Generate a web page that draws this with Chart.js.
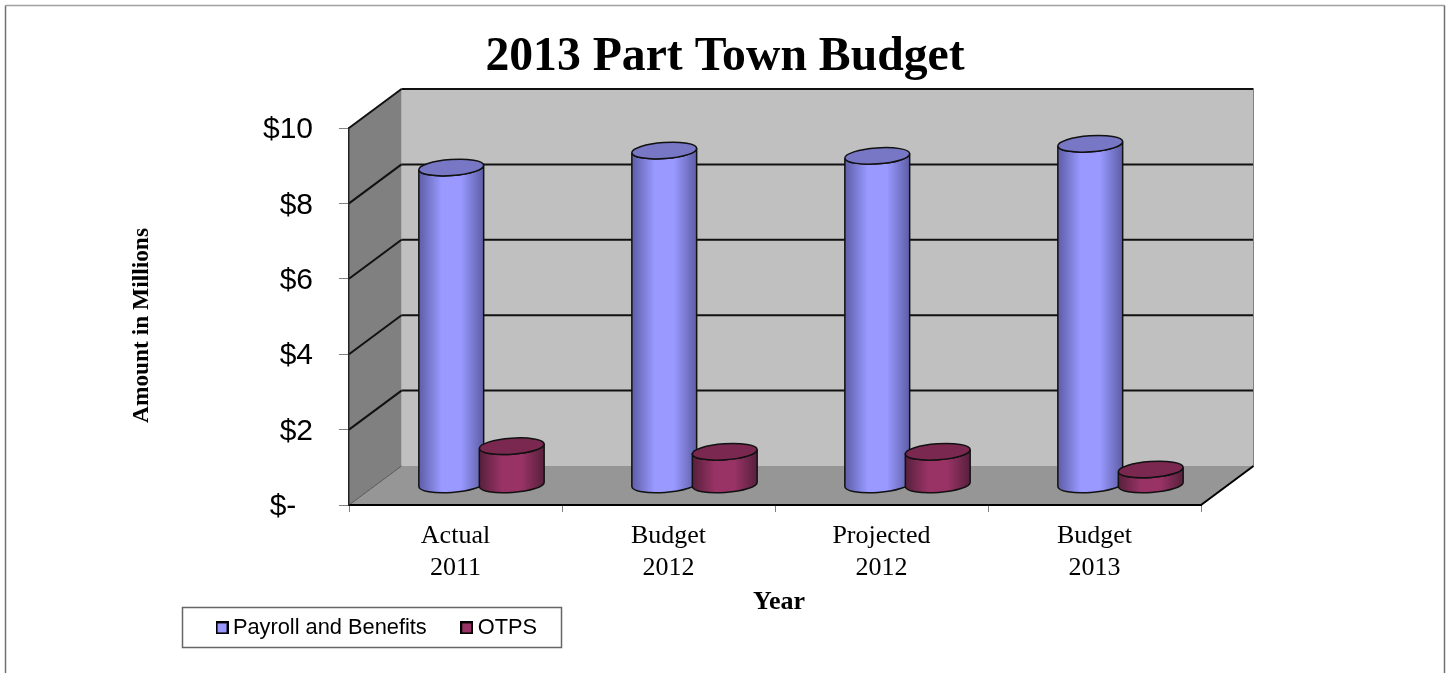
<!DOCTYPE html>
<html>
<head>
<meta charset="utf-8">
<title>2013 Part Town Budget</title>
<script src="https://cdn.jsdelivr.net/npm/chart.js@4"></script>
<style>
    html, body { margin: 0; padding: 0; background: #fff; overflow: hidden; }
    canvas { display: block; }
</style>
</head>
<body>
<canvas id="budgetChart" width="1449" height="673"></canvas>
<script>
const categories = [["Actual", "2011"], ["Budget", "2012"], ["Projected", "2012"], ["Budget", "2013"]];
const payroll = [8.42, 8.87, 8.73, 9.05];
const otps = [1.03, 0.88, 0.88, 0.41];
const yTickLabels = ["$-  ", "$2", "$4", "$6", "$8", "$10"];

// how far the back wall sits behind the axes, and where the cylinders stand in that depth
const wallDepth = { x: 52.5, y: -39 };
const barDepth = { x: 26, y: -20 };

const looks = [
    { edge: "#5d5da6", mid: "#9999ff", top: "#7777c6" },
    { edge: "#57203c", mid: "#993366", top: "#7a2850" }
];

function legendMarker(color) {
    const c = document.createElement("canvas");
    c.width = 13;
    c.height = 13;
    const g = c.getContext("2d");
    g.fillStyle = "#000";
    g.fillRect(0, 0, 13, 13);
    g.fillStyle = color;
    g.fillRect(2, 2, 9, 9);
    return c;
}
const markers = [legendMarker("#9999ff"), legendMarker("#993366")];

function polygon(ctx, points, fill) {
    ctx.beginPath();
    points.forEach((p, i) => (i ? ctx.lineTo(p[0], p[1]) : ctx.moveTo(p[0], p[1])));
    ctx.closePath();
    ctx.fillStyle = fill;
    ctx.fill();
}

function line(ctx, x1, y1, x2, y2, color, width) {
    ctx.beginPath();
    ctx.moveTo(x1, y1);
    ctx.lineTo(x2, y2);
    ctx.strokeStyle = color;
    ctx.lineWidth = width;
    ctx.stroke();
}

// walls, floor, gridlines and the outer frame go under the axes
const roomPlugin = {
    id: "room",
    beforeDraw(chart) {
        const ctx = chart.ctx;
        const { left, right, top, bottom } = chart.chartArea;
        const dx = wallDepth.x, dy = wallDepth.y;
        ctx.save();

        line(ctx, 5.5, 673, 5.5, 5.5, "#707070", 1.5);
        line(ctx, 5.5, 5.5, 1444.5, 5.5, "#a0a0a0", 1.5);
        line(ctx, 1444.5, 5.5, 1444.5, 673, "#707070", 1.5);

        polygon(ctx, [[left + dx, top + dy], [right + dx, top + dy], [right + dx, bottom + dy], [left + dx, bottom + dy]], "#c0c0c0");
        polygon(ctx, [[left, top], [left + dx, top + dy], [left + dx, bottom + dy], [left, bottom]], "#808080");
        polygon(ctx, [[left, bottom], [left + dx, bottom + dy], [right + dx, bottom + dy], [right, bottom]], "#969696");

        chart.scales.y.ticks.forEach(t => {
            if (t.value === 0) return;
            const y = chart.scales.y.getPixelForValue(t.value);
            line(ctx, left, y, left + dx, y + dy, "#111", 2);
            line(ctx, left + dx, y + dy, right + dx, y + dy, "#111", 2);
        });
        line(ctx, left, bottom, left + dx, bottom + dy, "#555", 1);
        line(ctx, right + dx, top + dy, right + dx, bottom + dy, "#808080", 1);
        line(ctx, right, bottom, right + dx, bottom + dy, "#000", 2);

        ctx.strokeStyle = "#666";
        ctx.lineWidth = 1.5;
        ctx.strokeRect(182.5, 607.5, 379, 40);
        ctx.restore();
    }
};

function drawCylinder(ctx, bar, look) {
    const cx = bar.x + barDepth.x;
    const topY = bar.y + barDepth.y;
    const baseY = bar.base + barDepth.y;
    const rx = bar.width / 2;
    const ry = 8;
    const tilt = -0.07;
    const ex = rx * Math.cos(tilt), ey = rx * Math.sin(tilt);

    ctx.save();
    const grad = ctx.createLinearGradient(cx - rx, 0, cx + rx, 0);
    grad.addColorStop(0, look.edge);
    grad.addColorStop(0.35, look.mid);
    grad.addColorStop(0.65, look.mid);
    grad.addColorStop(1, look.edge);

    ctx.beginPath();
    ctx.moveTo(cx - ex, topY - ey);
    ctx.lineTo(cx - ex, baseY - ey);
    ctx.ellipse(cx, baseY, rx, ry, tilt, Math.PI, 0, true);
    ctx.lineTo(cx + ex, topY + ey);
    ctx.ellipse(cx, topY, rx, ry, tilt, 0, Math.PI, false);
    ctx.closePath();
    ctx.fillStyle = grad;
    ctx.fill();
    ctx.strokeStyle = "#111";
    ctx.lineWidth = 1.5;
    ctx.stroke();

    ctx.beginPath();
    ctx.ellipse(cx, topY, rx, ry, tilt, 0, Math.PI * 2);
    ctx.fillStyle = look.top;
    ctx.fill();
    ctx.stroke();
    ctx.restore();
}

// each bar is painted as a cylinder standing partway back on the floor, second series in front
const cylinderPlugin = {
    id: "cylinders",
    beforeDatasetDraw() {
        return false;
    },
    afterDatasetsDraw(chart) {
        looks.forEach((look, i) => {
            chart.getDatasetMeta(i).data.forEach(bar => drawCylinder(chart.ctx, bar, look));
        });
    }
};

function nudgeTitle(scale, dx, dy) {
    const draw = scale.drawTitle;
    scale.drawTitle = function () {
        this.ctx.save();
        this.ctx.translate(dx, dy);
        draw.call(this);
        this.ctx.restore();
    };
}

// title and legend keep their text from Chart.js but sit outside the usual layout stack
const placementPlugin = {
    id: "placement",
    beforeLayout(chart) {
        const lg = chart.legend;
        if (!lg.$flat) {
            const fit = lg.fit;
            lg.fit = function () {
                fit.call(this);
                this.height = 0;
            };
            lg.$flat = true;
        }
    },
    afterLayout(chart) {
        chart.titleBlock.left = 1;
        chart.titleBlock.right = 1449;
        const lg = chart.legend;
        lg.left = 182;
        lg.right = 620;
        lg.top = 577;
        lg.bottom = 683;
        if (!chart.$nudged) {
            nudgeTitle(chart.scales.x, 4, 1);
            nudgeTitle(chart.scales.y, 1, 9);
            chart.$nudged = true;
        }
    }
};

new Chart(document.getElementById("budgetChart"), {
    type: "bar",
    data: {
        labels: categories,
        datasets: [
            { label: "Payroll and Benefits", data: payroll, backgroundColor: "#9999ff", borderColor: "#000" },
            { label: "OTPS", data: otps, backgroundColor: "#993366", borderColor: "#000" }
        ]
    },
    options: {
        responsive: false,
        animation: false,
        events: [],
        categoryPercentage: 0.568,
        barPercentage: 1.074,
        layout: { padding: { left: 127, right: 248, top: 0, bottom: 56 } },
        plugins: {
            tooltip: { enabled: false },
            title: {
                display: true,
                text: "2013 Part Town Budget",
                color: "#000",
                font: { family: "'Liberation Serif'", size: 47.7, weight: "bold", lineHeight: 1 },
                padding: { top: 34, bottom: 46.3 }
            },
            legend: {
                position: "bottom",
                align: "start",
                labels: {
                    usePointStyle: true,
                    boxWidth: 0.01,
                    padding: 40,
                    color: "#000",
                    font: { family: "'Liberation Sans'", size: 21.8 },
                    generateLabels(chart) {
                        return Chart.defaults.plugins.legend.labels.generateLabels(chart)
                            .map(item => ({ ...item, pointStyle: markers[item.datasetIndex] }));
                    }
                }
            }
        },
        scales: {
            x: {
                offset: true,
                afterFit(scale) { scale.height = 112; },
                grid: { offset: true, drawOnChartArea: false, color: "#808080", tickLength: 7, lineWidth: 1 },
                border: { color: "#000", width: 2 },
                ticks: {
                    autoSkip: false,
                    maxRotation: 0,
                    padding: 9,
                    color: "#000",
                    font: { family: "'Liberation Serif'", size: 26 }
                },
                title: {
                    display: true,
                    text: "Year",
                    color: "#000",
                    padding: 0,
                    font: { family: "'Liberation Serif'", size: 26, weight: "bold" }
                }
            },
            y: {
                min: 0,
                max: 10,
                afterFit(scale) { scale.width = 222; },
                grid: { drawOnChartArea: false, color: "#808080", tickLength: 10, lineWidth: 1 },
                border: { color: "#222", width: 1.5 },
                ticks: {
                    stepSize: 2,
                    padding: 26,
                    labelOffset: 2,
                    color: "#000",
                    font: { family: "'Liberation Sans'", size: 30 },
                    callback: value => yTickLabels[value / 2]
                },
                title: {
                    display: true,
                    text: "Amount in Millions",
                    color: "#000",
                    padding: 0,
                    font: { family: "'Liberation Serif'", size: 23.4, weight: "bold" }
                }
            }
        }
    },
    plugins: [roomPlugin, cylinderPlugin, placementPlugin]
});
</script>
</body>
</html>
